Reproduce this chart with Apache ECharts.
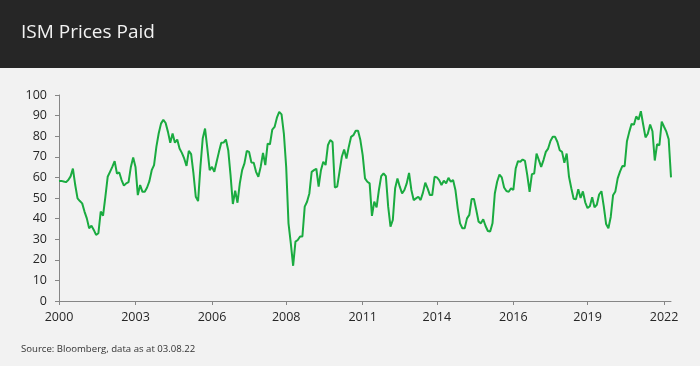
<!DOCTYPE html>
<html><head><meta charset="utf-8">
<script src="https://cdn.jsdelivr.net/npm/echarts@6/dist/echarts.min.js"></script>
<style>html,body{margin:0;padding:0;background:#f2f2f2}#c{width:700px;height:366px}</style>
</head><body><div id="c"></div>
<script>
const titleText = 'ISM Prices Paid';
const sourceText = 'Source: Bloomberg, data as at 03.08.22';
const startYear = 2000, startMonth = 7;
const values = [
58.2,58.3,58.0,57.7,58.7,60.5,64.3,56.3,49.8,48.5,
47.4,43.4,40.1,35.3,36.6,34.5,32.1,32.9,43.4,41.4,
50.6,60.3,62.7,65.1,67.9,61.9,62.4,58.7,56.0,57.1,
57.7,65.1,69.7,65.1,51.4,56.3,53.0,53.0,55.1,58.2,
63.5,66.0,74.8,81.3,86.1,88.0,86.4,82.1,76.8,81.3,
76.8,78.4,74.0,71.9,69.2,65.6,72.9,71.3,61.9,50.6,
48.5,65.1,78.9,83.7,74.0,63.5,65.1,62.7,67.6,72.4,
76.8,76.9,78.4,73.2,61.1,47.1,53.5,47.7,57.1,63.5,
66.8,72.9,72.4,67.2,67.1,62.7,60.3,65.1,71.9,66.0,
76.4,76.1,83.2,84.5,89.0,91.8,90.6,81.3,65.1,37.7,
28.0,17.1,28.8,29.6,31.3,31.3,45.8,48.2,52.2,62.7,
63.5,64.2,55.5,63.5,67.6,66.0,75.6,78.1,77.2,55.1,
55.5,62.7,70.0,73.5,69.2,74.8,79.7,80.5,82.6,82.6,
78.1,70.8,59.5,57.9,57.1,41.3,48.2,45.5,53.9,60.6,
61.9,60.6,45.8,36.1,39.3,54.7,59.5,55.5,52.2,53.9,
57.1,62.2,53.9,49.0,49.8,50.6,49.0,52.6,57.4,54.7,
51.4,51.4,60.3,60.0,58.7,56.3,58.4,57.1,59.8,57.9,
58.7,53.9,45.0,37.7,35.3,35.3,40.1,41.8,49.5,49.5,
44.2,38.5,37.7,39.7,36.4,34.0,33.7,37.7,52.2,57.9,
61.4,60.0,55.1,53.4,53.0,54.7,53.9,64.3,67.9,67.6,
68.7,68.0,61.1,53.0,61.6,61.9,71.6,68.4,65.1,68.4,
72.4,74.0,77.7,79.7,79.7,77.2,73.2,72.4,67.1,71.6,
60.3,54.7,
49.6,49.4,54.3,50.0,53.2,47.9,45.1,46.0,50.4,45.5,46.7,51.7,
53.3,45.9,37.4,35.3,40.8,51.3,53.2,59.5,62.8,65.5,65.4,77.6,
82.1,86.0,85.6,89.6,88.0,92.1,85.7,79.4,81.2,85.7,82.4,68.2,
76.1,75.6,87.1,84.6,82.2,78.5,60.0
];
const tickLabels = ['2000','2003','2006','2008','2011','2014','2016','2019','2022'];
const tickIndex = [0,33,66,98,131,163,196,228,261];

const categories = values.map((v, i) => {
  const m = startMonth - 1 + i;
  return (startYear + Math.floor(m / 12)) + '-' + String(m % 12 + 1).padStart(2, '0');
});
const tickSet = new Set(tickIndex);
const axisColor = '#868686';
const labelColor = '#262626';
const font = 'Open Sans';

const chart = echarts.init(document.getElementById('c'), null, {renderer: 'canvas'});
chart.setOption({
  backgroundColor: '#f2f2f2',
  animation: false,
  grid: {left: 59, right: 29, top: 95, bottom: 65, containLabel: false},
  xAxis: {
    type: 'category', data: categories, boundaryGap: false,
    axisLine: {show: true, lineStyle: {color: axisColor, width: 1}},
    axisTick: {show: true, length: 4, interval: (i) => tickSet.has(i), lineStyle: {color: axisColor}},
    axisLabel: {interval: (i) => tickSet.has(i),
      formatter: (v, i) => tickLabels[tickIndex.indexOf(i)],
      color: labelColor, fontFamily: font, fontSize: 12.5, margin: 10},
    splitLine: {show: false}
  },
  yAxis: {
    type: 'value', min: 0, max: 100, interval: 10,
    axisLine: {show: true, lineStyle: {color: axisColor, width: 1}},
    axisTick: {show: true, length: 4, lineStyle: {color: axisColor}},
    axisLabel: {color: labelColor, fontFamily: font, fontSize: 12.5, margin: 12},
    splitLine: {show: false}
  },
  series: [{
    type: 'line', data: values, symbol: 'none', smooth: false,
    lineStyle: {color: '#1aab40', width: 2},
    itemStyle: {color: '#1aab40'}
  }],
  graphic: [
    {type: 'rect', left: 0, top: 0, z: -10, shape: {width: 700, height: 68}, style: {fill: '#262626'}},
    {type: 'text', x: 21, y: 33, style: {text: titleText, fill: '#f2f2f2', fontFamily: font, fontSize: 19, verticalAlign: 'middle'}},
    {type: 'text', x: 21, y: 349, style: {text: sourceText, fill: '#333333', fontFamily: font, fontSize: 9.6, verticalAlign: 'middle'}}
  ]
});
</script>
</body></html>
